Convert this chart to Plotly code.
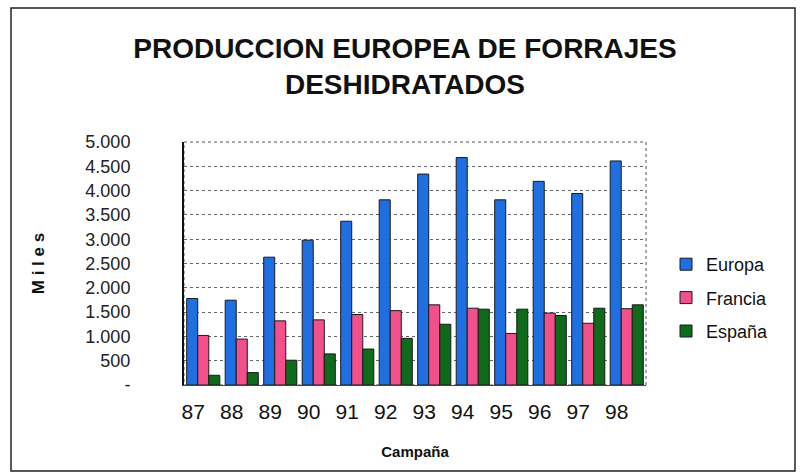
import plotly.graph_objects as go

campanas = ["87", "88", "89", "90", "91", "92", "93", "94", "95", "96", "97", "98"]
europa = [1780, 1745, 2630, 2980, 3370, 3810, 4340, 4680, 3810, 4190, 3940, 4610]
francia = [1020, 945, 1320, 1340, 1450, 1530, 1650, 1580, 1060, 1480, 1270, 1570]
espana = [200, 255, 510, 640, 740, 960, 1250, 1560, 1560, 1430, 1580, 1650]
y_tickvals = [0, 500, 1000, 1500, 2000, 2500, 3000, 3500, 4000, 4500, 5000]
y_ticktext = ["-", "500", "1.000", "1.500", "2.000", "2.500", "3.000", "3.500", "4.000", "4.500", "5.000"]

W, H = 805, 473
L, R, T, B = 184, 646, 142, 385

fig = go.Figure()
series = [("Europa", europa, "#1f6fe3"), ("Francia", francia, "#f2508c"), ("España", espana, "#0f6a1c")]
for name, vals, col in series:
    fig.add_trace(go.Bar(x=campanas, y=vals, name=name, legendgroup=name,
                         marker=dict(color=col, line=dict(color="#1a1a1a", width=1))))

pw, ph = R - L, B - T
def px_x(p):
    return (p - L) / pw
def px_y(p):
    return (B - p) / ph

fig.update_layout(
    width=W, height=H,
    margin=dict(l=L, r=W - R, t=T, b=H - B, autoexpand=False),
    paper_bgcolor="white", plot_bgcolor="white",
    barmode="group", bargap=0.14, bargroupgap=0,
    font=dict(family="Liberation Sans, Arial, sans-serif", color="#111"),
    title=dict(text="<b>PRODUCCION EUROPEA DE FORRAJES<br>DESHIDRATADOS</b>",
               x=405 / W, xref="container", xanchor="center",
               y=1 - 58 / H, yref="container", yanchor="middle",
               font=dict(size=28, color="#111")),
    legend=dict(x=px_x(666), y=px_y(246), xanchor="left", yanchor="top",
                font=dict(size=18, color="#111"), bgcolor="rgba(0,0,0,0)",
                itemwidth=30, tracegroupgap=7),
    showlegend=True,
)
fig.update_xaxes(
    type="category", showgrid=False, ticks="", showline=True, linecolor="#444", linewidth=1,
    tickfont=dict(size=21, color="#111"), ticklabelstandoff=8, ticklabelshift=-10,
    title=dict(text="<b>Campaña</b>", font=dict(size=15, color="#111"), standoff=24),
    automargin=False, mirror=False,
)
fig.update_yaxes(
    range=[0, 5000], tickvals=y_tickvals, ticktext=y_ticktext,
    showgrid=True, gridcolor="#666", griddash="dot", gridwidth=1,
    showline=True, linecolor="#111", linewidth=2, ticks="",
    tickfont=dict(size=18, color="#222"), ticklabelstandoff=48,
    title=dict(text="<b>M i l e s</b>", font=dict(size=17, color="#111"), standoff=36),
    automargin=False, zeroline=False,
)
# plot area frame (dotted top/right) and outer chart border
fig.add_shape(type="rect", xref="paper", yref="paper", x0=0, x1=1, y0=0, y1=1,
              line=dict(color="#555", width=1, dash="dot"), layer="below")
fig.add_shape(type="rect", xref="paper", yref="paper",
              x0=px_x(11), x1=px_x(795), y0=px_y(471), y1=px_y(8),
              line=dict(color="#222", width=1.5))

fig.write_html("out.html", post_script="document.body.style.margin='0';",
               config={"displayModeBar": False})
